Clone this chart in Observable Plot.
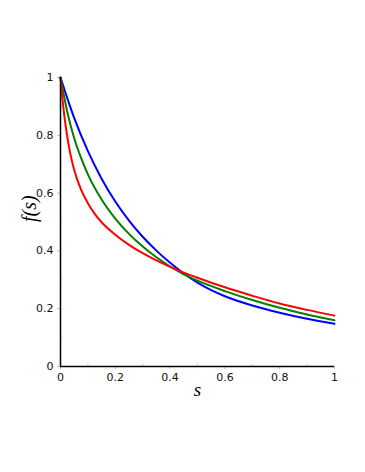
<!DOCTYPE html>
<html>
<head>
<meta charset="utf-8">
<script src="https://cdn.jsdelivr.net/npm/d3@7"></script>
<script src="https://cdn.jsdelivr.net/npm/@observablehq/plot@0.6"></script>
<style>
  html, body { margin: 0; padding: 0; background: #fff; }
  #chart svg { display: block; }
</style>
</head>
<body>
<div id="chart"></div>
<script>
// Values
const blueS  = [0, 0.05, 0.1, 0.15, 0.2, 0.25, 0.3, 0.35, 0.4, 0.45, 0.5, 0.55, 0.6, 0.7, 0.8, 0.9, 1.0];
const blueF  = [1, 0.86, 0.745, 0.65, 0.571, 0.505, 0.449, 0.401, 0.359, 0.322, 0.29, 0.264, 0.243, 0.211, 0.186, 0.165, 0.148];

const greenS = [0, 0.025, 0.05, 0.075, 0.1, 0.15, 0.2, 0.25, 0.3, 0.35, 0.4, 0.45, 0.5, 0.6, 0.7, 0.8, 0.9, 1.0];
const greenF = [1, 0.88, 0.79, 0.722, 0.665, 0.578, 0.512, 0.459, 0.415, 0.378, 0.346, 0.319, 0.297, 0.261, 0.23, 0.203, 0.18, 0.16];

const redS   = [0, 0.01, 0.02, 0.035, 0.05, 0.075, 0.1, 0.125, 0.15, 0.2, 0.25, 0.3, 0.35, 0.4, 0.45, 0.5, 0.6, 0.7, 0.8, 0.9, 1.0];
const redF   = [1, 0.9, 0.825, 0.74, 0.68, 0.612, 0.565, 0.528, 0.499, 0.456, 0.421, 0.392, 0.367, 0.345, 0.325, 0.307, 0.274, 0.245, 0.218, 0.196, 0.176];

const majorTicks = [0, 0.2, 0.4, 0.6, 0.8, 1];
const minorTicks = [0.1, 0.3, 0.5, 0.7, 0.9];
const xLabel = "s";
const yLabel = "f(s)";

const series = [
  {s: blueS, f: blueF, color: "#0000ff"},
  {s: greenS, f: greenF, color: "#008000"},
  {s: redS, f: redF, color: "#ff0000"}
];
const rows = series.flatMap(({s, f, color}) => s.map((v, i) => ({s: v, f: f[i], color})));

const fmt = d => String(+(+d).toFixed(1));

const chart = Plot.plot({
  width: 365,
  height: 472,
  marginLeft: 60,
  marginRight: 31,
  marginTop: 77,
  marginBottom: 106,
  style: {fontFamily: "DejaVu Sans", fontSize: "11px", color: "#000", background: "#fff"},
  x: {domain: [0, 1]},
  y: {domain: [0, 1]},
  marks: [
    Plot.axisX({ticks: majorTicks, tickSize: 3, tickPadding: 4, tickFormat: fmt, stroke: "#bbb", label: null, fill: "#111", fontSize: 11}),
    Plot.axisY({ticks: majorTicks, tickSize: 3, tickPadding: 4, tickFormat: fmt, stroke: "#bbb", label: null, fill: "#111", fontSize: 11}),
    Plot.ruleX(minorTicks, {y1: 0, y2: 0.008, stroke: "#ccc"}),
    Plot.ruleY(minorTicks, {x1: 0, x2: 0.008, stroke: "#ccc"}),
    Plot.line(rows, {x: "s", y: "f", z: "color", stroke: "color", strokeWidth: 2, curve: "monotone-x"}),
    Plot.ruleX([0], {stroke: "#000", strokeWidth: 1.5}),
    Plot.ruleY([0], {stroke: "#000", strokeWidth: 1.5}),
    Plot.text([xLabel], {frameAnchor: "bottom", dy: 29, fontFamily: "Liberation Serif", fontStyle: "italic", fontSize: 19, fill: "#000"}),
    Plot.text([yLabel], {frameAnchor: "left", dx: -31, rotate: -90, fontFamily: "Liberation Serif", fontStyle: "italic", fontSize: 20, letterSpacing: "2px", fill: "#000"})
  ]
});
document.getElementById("chart").appendChild(chart);
</script>
</body>
</html>
